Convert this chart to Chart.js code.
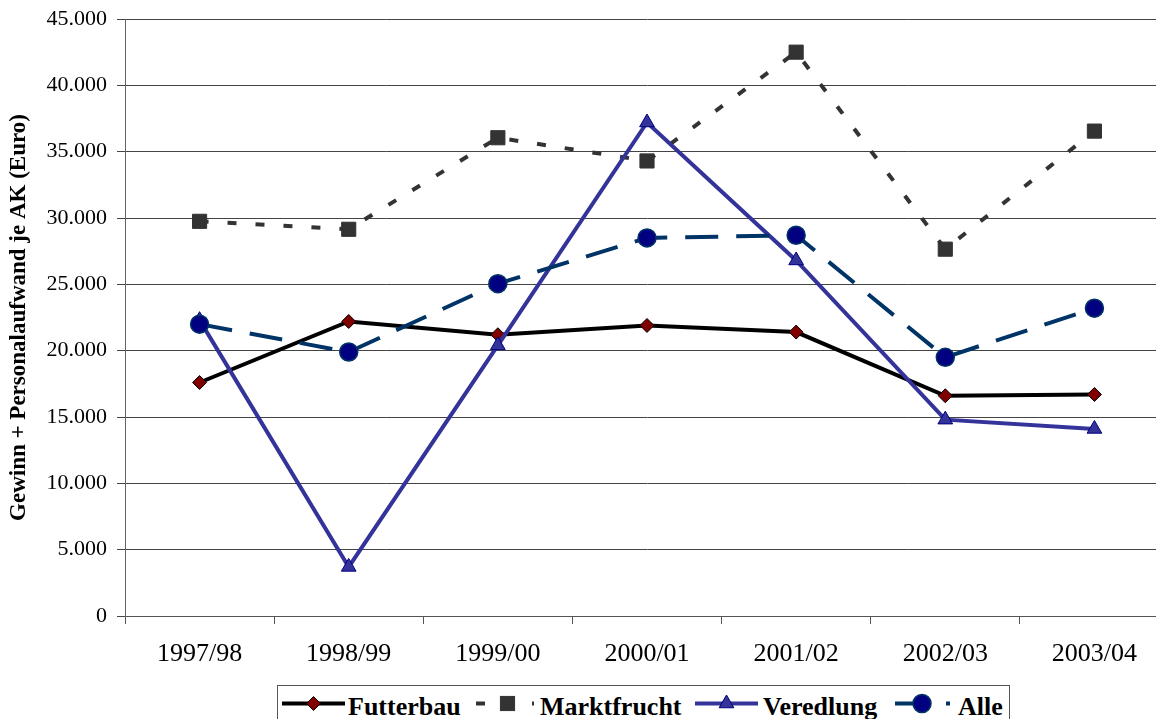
<!DOCTYPE html>
<html>
<head>
<meta charset="utf-8">
<title>Gewinn + Personalaufwand je AK</title>
<script src="https://cdn.jsdelivr.net/npm/chart.js@4.4.1/dist/chart.umd.min.js"></script>
<style>
  html, body { margin: 0; padding: 0; background: #fff; overflow: hidden; }
  #wrap { position: relative; width: 1156px; height: 719px; overflow: hidden; }
  #chart { position: absolute; left: 0; top: 0; }
  #legendBox {
    position: absolute; left: 277px; top: 685px; width: 733px; height: 60px;
    border: 1px solid #555; box-sizing: border-box; background: #fff;
  }
  .lg-text {
    position: absolute; top: 692px; line-height: 26px;
    font: bold 26px "Liberation Serif", "Times New Roman", serif; color: #000;
    white-space: nowrap;
  }
  .lg-sample { position: absolute; top: 693px; }
</style>
</head>
<body>
<div id="wrap">
  <canvas id="chart" width="1180" height="719"></canvas>
  <div id="legendBox"></div>
</div>
<script>
// === Data ===
const categories = ["1997/98", "1998/99", "1999/00", "2000/01", "2001/02", "2002/03", "2003/04"];
const futterbau = [17600, 22200, 21200, 21900, 21400, 16600, 16700];
const marktfrucht = [29750, 29150, 36050, 34300, 42500, 27650, 36550];
const veredlung = [22300, 3700, 20400, 37200, 26800, 14800, 14100];
const alle = [22000, 19900, 25050, 28500, 28700, 19500, 23200];
const seriesNames = ["Futterbau", "Marktfrucht", "Veredlung", "Alle"];
const yMin = 0;
const yMax = 45000;
const yStep = 5000;
const yTitle = "Gewinn + Personalaufwand je AK (Euro)";

// === Styles ===
const serif = '"Liberation Serif", "Times New Roman", serif';
const styles = [
  { line: "#000000", dash: [], point: "rectRot", radius: 7, fill: "#800000", border: "#000000", bw: 1 },
  { line: "#333333", dash: [9, 19], point: "rect", radius: 10, fill: "#333333", border: "#333333", bw: 1 },
  { line: "#333399", dash: [], point: "triangle", radius: 8.5, fill: "#333399", border: "#000080", bw: 1 },
  { line: "#003366", dash: [33, 18], point: "circle", radius: 9, fill: "#000080", border: "#003366", bw: 1.5 }
];
const seriesData = [futterbau, marktfrucht, veredlung, alle];

// german thousands separator
function fmt(v) {
  return String(v).replace(/\B(?=(\d{3})+(?!\d))/g, ".");
}

const datasets = seriesNames.map((name, i) => ({
  label: name,
  data: seriesData[i],
  borderColor: styles[i].line,
  borderWidth: 4,
  borderDash: styles[i].dash,
  borderCapStyle: "butt",
  tension: 0,
  fill: false,
  pointStyle: styles[i].point,
  pointRadius: styles[i].radius,
  pointHoverRadius: styles[i].radius,
  pointBackgroundColor: styles[i].fill,
  pointBorderColor: styles[i].border,
  pointBorderWidth: styles[i].bw,
  order: seriesNames.length - i
}));

new Chart(document.getElementById("chart"), {
  type: "line",
  data: { labels: categories, datasets: datasets },
  options: {
    responsive: false,
    animation: false,
    devicePixelRatio: 1,
    layout: { padding: { top: 19, right: 4, left: 0, bottom: 0 } },
    plugins: {
      legend: { display: false },
      tooltip: { enabled: false }
    },
    scales: {
      x: {
        offset: true,
        afterFit: s => { s.height = 103; },
        grid: {
          offset: true,
          drawOnChartArea: false,
          drawTicks: true,
          tickLength: 8,
          color: "#555"
        },
        border: { color: "#555", width: 1 },
        ticks: {
          color: "#000",
          padding: 15,
          maxRotation: 0,
          autoSkip: false,
          font: { family: serif, size: 26 }
        }
      },
      y: {
        min: yMin,
        max: yMax,
        afterFit: s => { s.width = 125; },
        grid: {
          color: "#444",
          lineWidth: 1,
          drawTicks: true,
          tickLength: 8
        },
        border: { color: "#666", width: 1 },
        ticks: {
          stepSize: yStep,
          color: "#000",
          padding: 10,
          font: { family: serif, size: 22, lineHeight: 0.8 },
          callback: v => fmt(v)
        },
        title: {
          display: true,
          text: yTitle,
          color: "#000",
          padding: { top: 5, bottom: 0 },
          font: { family: serif, size: 23, weight: "bold" }
        }
      }
    }
  }
});

// === Legend (html, bordered like the original) ===
const wrap = document.getElementById("wrap");
const sampleLeft = [282, 476, 695, 895];
const sampleWidth = [63, 58, 63, 55];
const textLeft = [348, 540, 763, 958];

function markerSvg(st, cx, cy) {
  const r = st.radius;
  if (st.point === "rectRot") {
    return `<polygon points="${cx},${cy - r} ${cx + r},${cy} ${cx},${cy + r} ${cx - r},${cy}" fill="${st.fill}" stroke="${st.border}" stroke-width="${st.bw}"/>`;
  }
  if (st.point === "rect") {
    const h = r * Math.SQRT1_2;
    return `<rect x="${cx - h}" y="${cy - h}" width="${2 * h}" height="${2 * h}" fill="${st.fill}" stroke="${st.border}" stroke-width="${st.bw}"/>`;
  }
  if (st.point === "triangle") {
    const hw = r * Math.sin(Math.PI / 3);
    return `<polygon points="${cx},${cy - r} ${cx + hw},${cy + r / 2} ${cx - hw},${cy + r / 2}" fill="${st.fill}" stroke="${st.border}" stroke-width="${st.bw}"/>`;
  }
  return `<circle cx="${cx}" cy="${cy}" r="${r}" fill="${st.fill}" stroke="${st.border}" stroke-width="${st.bw}"/>`;
}

seriesNames.forEach((name, i) => {
  const st = styles[i];
  const w = sampleWidth[i], h = 22, cy = 10.5;
  const cx = i === 3 ? 27 : (i === 1 ? 31.5 : w / 2);
  const sample = document.createElement("div");
  sample.className = "lg-sample";
  sample.style.left = sampleLeft[i] + "px";
  sample.innerHTML =
    `<svg width="${w}" height="${h}" xmlns="http://www.w3.org/2000/svg">` +
    `<line x1="0" y1="${cy}" x2="${w}" y2="${cy}" stroke="${st.line}" stroke-width="4"` +
    (st.dash.length ? ` stroke-dasharray="${st.dash.join(",")}"` : "") + `/>` +
    markerSvg(st, cx, cy) + `</svg>`;
  wrap.appendChild(sample);

  const txt = document.createElement("span");
  txt.className = "lg-text";
  txt.style.left = textLeft[i] + "px";
  txt.textContent = name;
  wrap.appendChild(txt);
});
</script>
</body>
</html>
